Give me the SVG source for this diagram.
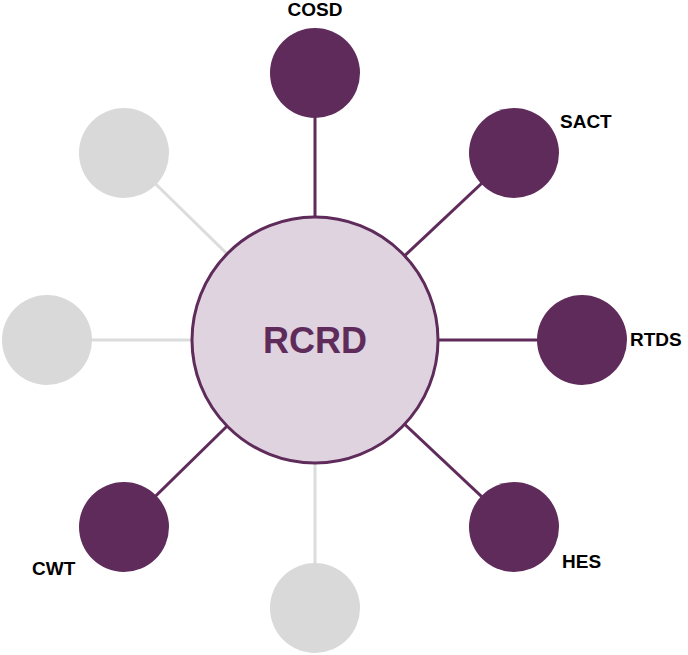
<svg xmlns="http://www.w3.org/2000/svg" width="688" height="655" viewBox="0 0 688 655">
<style>
.lp{stroke:#5F2B5A;stroke-width:3;fill:none}
.lg{stroke:#DCDCDC;stroke-width:3;fill:none}
.np{fill:#5F2B5A}
.ng{fill:#D9D9D9}
.lbl{font-family:"Liberation Sans",Arial,sans-serif;font-weight:bold;font-size:19px;fill:#000}
</style>
<rect width="688" height="655" fill="#fff"/>
<g id="connectors">
<line class="lp" x1="315" y1="340" x2="315" y2="73"/>
<line class="lp" x1="315" y1="340" x2="514" y2="153"/>
<line class="lp" x1="315" y1="340" x2="582" y2="340"/>
<line class="lp" x1="315" y1="340" x2="514" y2="527"/>
<line class="lp" x1="315" y1="340" x2="124" y2="527"/>
<line class="lg" x1="315" y1="340" x2="315" y2="608"/>
<line class="lg" x1="315" y1="340" x2="47" y2="340"/>
<line class="lg" x1="315" y1="340" x2="124" y2="153"/>
</g>
<g id="RCRD">
<circle cx="315" cy="340" r="123" fill="#DED3DF" stroke="#5F2B5A" stroke-width="3"/>
<text x="315" y="353" text-anchor="middle" font-family="'Liberation Sans',Arial,sans-serif" font-weight="bold" font-size="36" fill="#5F2B5A">RCRD</text>
</g>
<g id="COSD"><circle class="np" cx="315" cy="73" r="45"/><text class="lbl" x="315" y="16" text-anchor="middle">COSD</text></g>
<g id="SACT"><circle class="np" cx="514" cy="153" r="45"/><text class="lbl" x="560" y="128">SACT</text></g>
<g id="RTDS"><circle class="np" cx="582" cy="340" r="45"/><text class="lbl" x="630" y="346">RTDS</text></g>
<g id="HES"><circle class="np" cx="514" cy="527" r="45"/><text class="lbl" x="562" y="568">HES</text></g>
<g id="CWT"><circle class="np" cx="124" cy="527" r="45"/><text class="lbl" x="32" y="575">CWT</text></g>
<g id="grey-bottom"><circle class="ng" cx="315" cy="608" r="45"/></g>
<g id="grey-left"><circle class="ng" cx="47" cy="340" r="45"/></g>
<g id="grey-topleft"><circle class="ng" cx="124" cy="153" r="45"/></g>
</svg>
